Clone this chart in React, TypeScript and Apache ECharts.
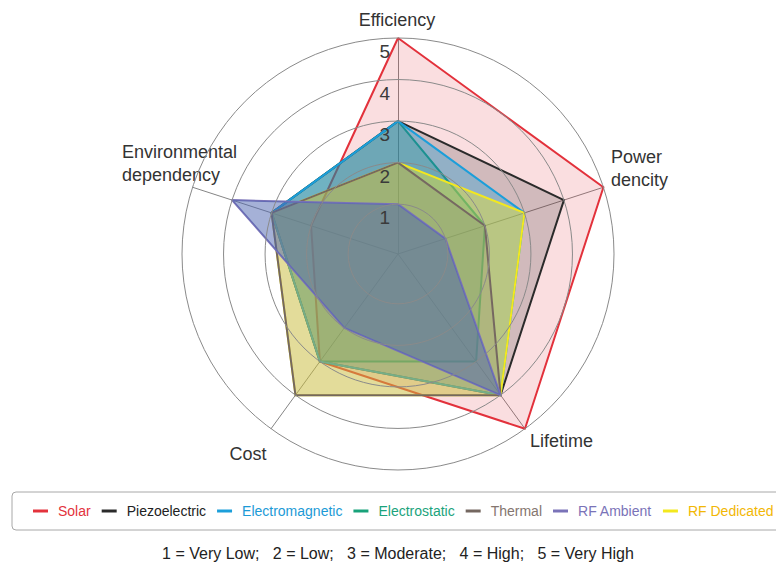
import React, { useEffect, useRef } from "react";
import * as echarts from "echarts";

// Indicator order as ECharts lays them out (counter-clockwise from the top)
const indicatorNames = ["Efficiency", "Environmental\ndependency", "Cost", "Lifetime", "Power\ndencity"];
const seriesNames = ["Solar", "Piezoelectric", "Electromagnetic", "Electrostatic", "Thermal", "RF Ambient", "RF Dedicated"];

// values: Efficiency, Environmental dependency, Cost, Lifetime, Power dencity
const solar = [5, 2, 3, 5, 5];
const piezoelectric = [3, 3, 3, 4, 4];
const electromagnetic = [3, 3, 3, 4, 3];
const electrostatic = [3, 3, 3, 3, 2];
const thermal = [2, 3, 4, 4, 2];
const rfAmbient = [1, 4, 2, 4, 1];
const rfDedicated = [2, 3, 4, 4, 3];
const allValues = [solar, piezoelectric, electromagnetic, electrostatic, thermal, rfAmbient, rfDedicated];

// stacking order of the polygons (bottom to top), as indices into seriesNames
const drawOrder = [0, 3, 1, 2, 6, 4, 5];

const scaleMin = -0.2;
const scaleMax = 5;
const footnote = "1 = Very Low;   2 = Low;   3 = Moderate;   4 = High;   5 = Very High";

const lineColors = ["#e3323c", "#2b2b2b", "#1c9fda", "#19a27a", "#746760", "#7a73b8", "#f3e81e"];
const fillColors = ["#e3323c", "#2b2b2b", "#1c9fda", "#19a27a", "#85766f", "#4b64af", "#f5e81e"];
const fillOpacity = [0.16, 0.2, 0.35, 0.3, 0.2, 0.5, 0.4];
const textColors = ["#e3323c", "#222222", "#1c9ad6", "#1aa37c", "#85766f", "#7a73b8", "#f2b705"];

// indicator name placement (label anchor beside each axis end)
const nameLabels = [
  { text: "Efficiency", x: 397, y: 20, align: "center" },
  { text: "Power\ndencity", x: 611, y: 168.5, align: "left" },
  { text: "Lifetime", x: 530, y: 441, align: "left" },
  { text: "Cost", x: 248, y: 454, align: "center" },
  { text: "Environmental\ndependency", x: 122, y: 163, align: "left" },
];

const FONT = "Liberation Sans, Arial, sans-serif";

export default function App() {
  const ref = useRef<HTMLDivElement>(null);
  useEffect(() => {
    if (!ref.current) return;
    const chart = echarts.init(ref.current, undefined, { renderer: "svg" });
    const center = [398, 254];
    const R = 216;
    const r0 = (R * (0 - scaleMin)) / (scaleMax - scaleMin);
    const option: any = {
      animation: false,
      backgroundColor: "#ffffff",
      textStyle: { fontFamily: FONT },
      radar: {
        center,
        radius: R,
        startAngle: 90,
        shape: "circle",
        splitNumber: 5,
        indicator: indicatorNames.map((n) => ({ name: n, min: scaleMin, max: scaleMax })),
        axisName: { show: false },
        splitLine: { show: false },
        splitArea: { show: false },
        axisLine: { lineStyle: { color: "#858585", width: 1 } },
        axisTick: { show: false },
        axisLabel: { show: false },
      },
      polar: { center, radius: [r0, R] },
      angleAxis: {
        type: "value",
        min: 0,
        max: 360,
        startAngle: 90,
        axisLine: { show: false },
        axisTick: { show: false },
        axisLabel: { show: false },
        splitLine: { show: false },
      },
      radiusAxis: {
        type: "value",
        min: 0,
        max: scaleMax,
        interval: 1,
        z: 3,
        axisLine: { show: false },
        axisTick: { show: false },
        axisLabel: {
          show: true,
          fontSize: 19,
          color: "#3a3a3a",
          fontFamily: FONT,
          verticalAlign: "top",
          padding: [4, 0, 0, 0],
          formatter: (v: number) => (v >= 1 ? String(v) : ""),
        },
        splitLine: {
          show: true,
          lineStyle: { color: ["rgba(0,0,0,0)", "#8a8a8a", "#8a8a8a", "#8a8a8a", "#8a8a8a", "#8a8a8a"], width: 1 },
        },
      },
      legend: {
        left: 12,
        top: 492,
        width: 770,
        icon: "rect",
        itemWidth: 15,
        itemHeight: 3,
        itemGap: 11,
        borderColor: "#a8a8a8",
        borderWidth: 1,
        borderRadius: 4,
        padding: [12, 20, 12, 21],
        textStyle: { fontSize: 14, fontFamily: FONT, padding: [0, 0, 0, 5] },
        data: seriesNames.map((n, i) => ({
          name: n,
          textStyle: { color: textColors[i] },
          itemStyle: { color: lineColors[i] },
        })),
      },
      graphic: [
        ...nameLabels.map((l) => ({
          type: "text",
          x: l.x,
          y: l.y,
          style: {
            text: l.text,
            fontSize: 18,
            lineHeight: 23,
            fill: "#333",
            fontFamily: FONT,
            textAlign: l.align,
            textVerticalAlign: "middle",
          },
        })),
        {
          type: "text",
          x: 398,
          y: 553,
          style: { text: footnote, fontSize: 16, fill: "#222", fontFamily: FONT, textAlign: "center", textVerticalAlign: "middle" },
        },
      ],
      series: drawOrder.map((i) => ({
        type: "radar",
        name: seriesNames[i],
        symbol: "none",
        lineStyle: { color: lineColors[i], width: 2 },
        itemStyle: { color: lineColors[i] },
        areaStyle: { color: fillColors[i], opacity: fillOpacity[i] },
        data: [{ name: seriesNames[i], value: allValues[i] }],
      })),
    };
    chart.setOption(option);
    return () => chart.dispose();
  }, []);
  return <div ref={ref} style={{ position: "fixed", left: 0, top: 0, width: 776, height: 566 }} />;
}
